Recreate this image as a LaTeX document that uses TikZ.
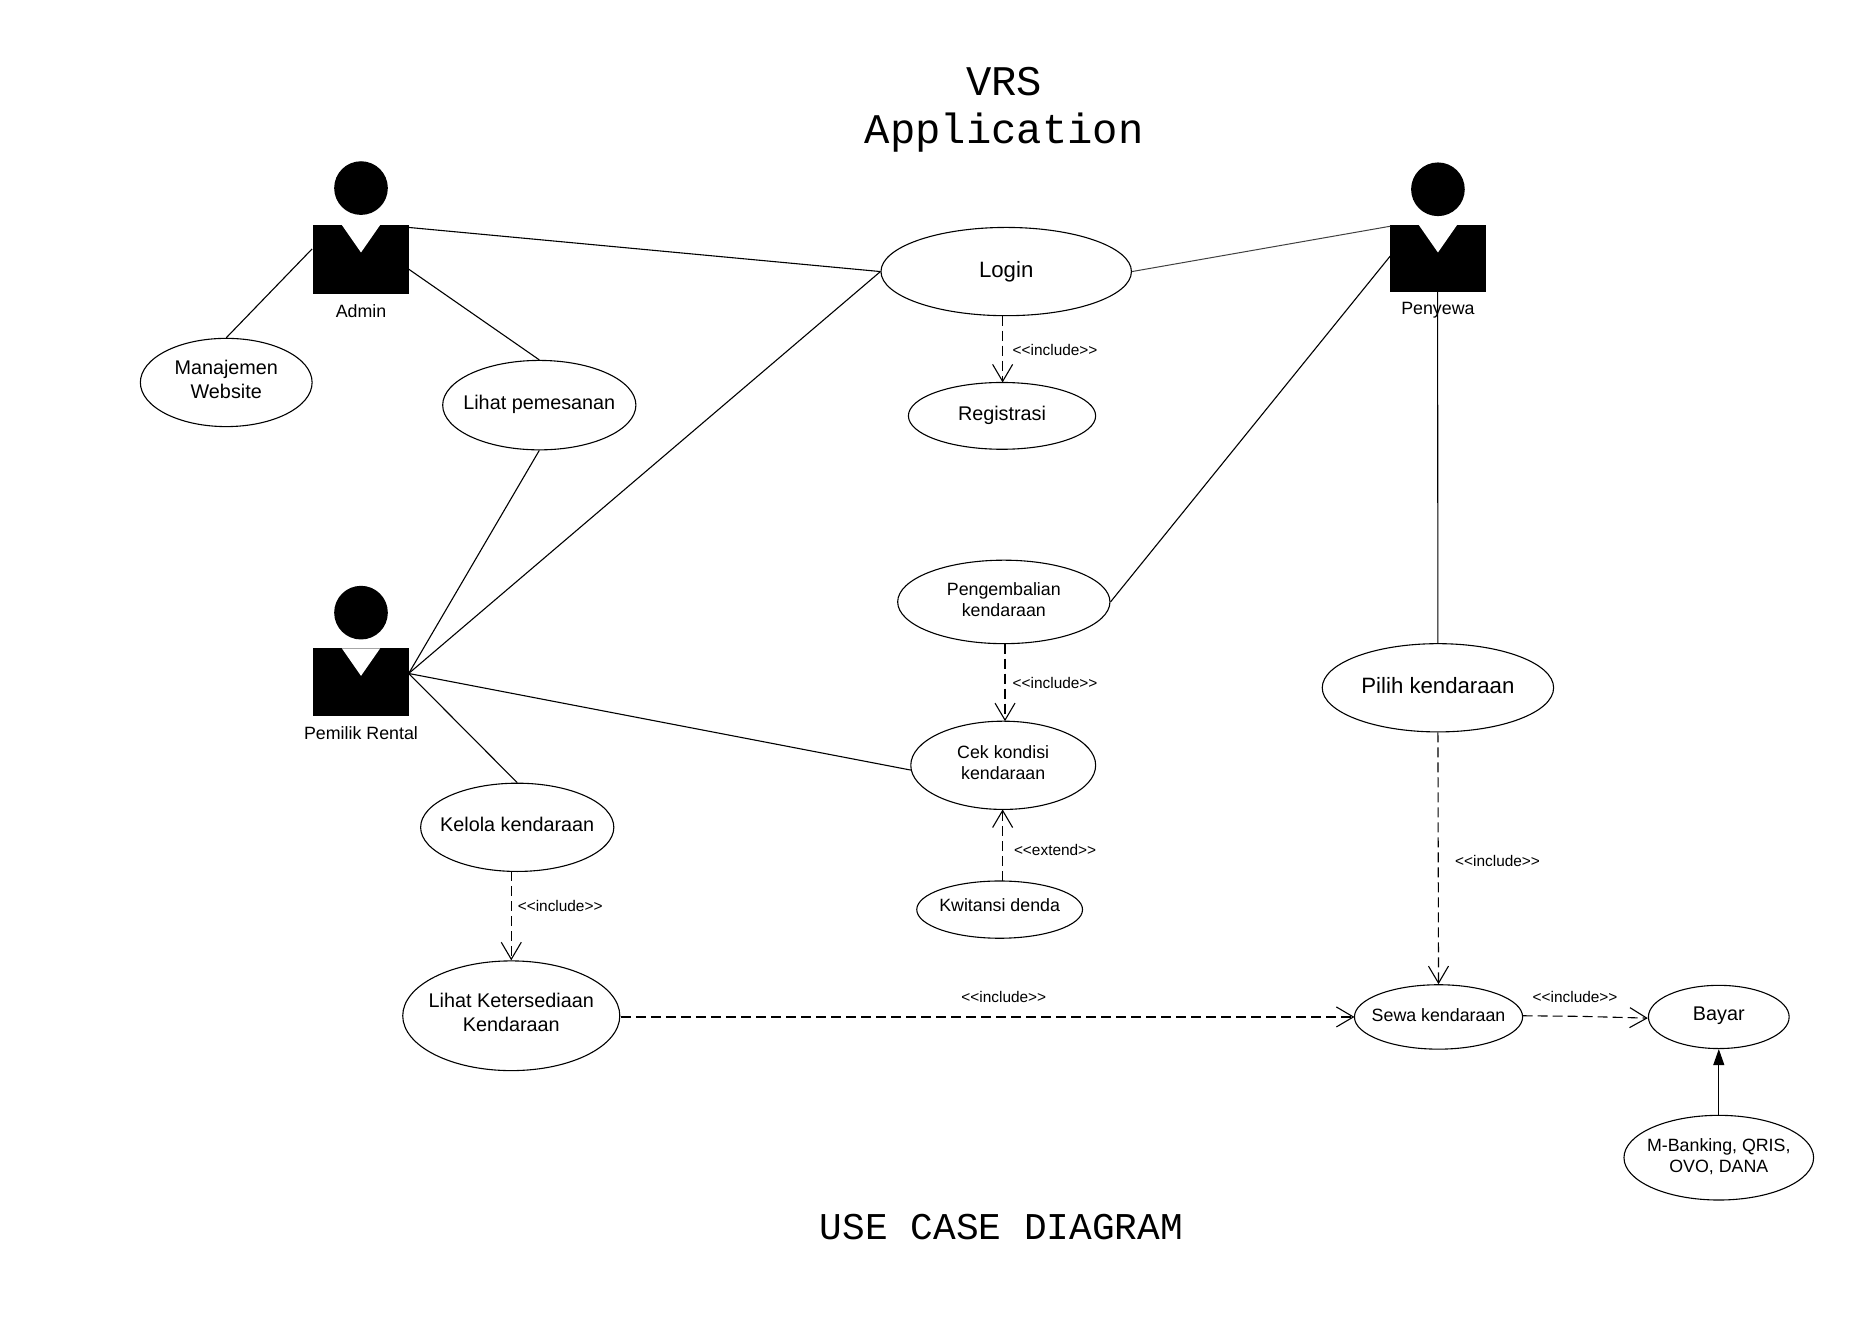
\documentclass[tikz,border=0pt]{standalone}
\usepackage{fontspec}
\setmainfont{Liberation Sans}
\newfontfamily\titlefont{Liberation Mono}
\usetikzlibrary{shapes.geometric,arrows.meta}
\tikzset{
  uc/.style 2 args={ellipse,draw,line width=0.55pt,inner sep=0pt,fill=white,minimum width=#1*0.5963pt,minimum height=#2*0.5963pt},
  uctxt/.style={align=center,inner sep=0pt},
  big/.style={font=\fontsize{11.1}{13}\selectfont},
  mid/.style={font=\fontsize{9.9}{11.9}\selectfont},
  sml/.style={font=\fontsize{8.9}{10.6}\selectfont},
  tag/.style={font=\fontsize{7.7}{9}\selectfont,inner sep=0pt},
  assoc/.style={line width=0.55pt},
  thinassoc/.style={line width=0.5pt,black!75},
  dep/.style={line width=0.55pt,dash pattern=on 5pt off 2.5pt,-{Straight Barb[length=8.5pt,width=10pt,line width=0.55pt]}},
  solidarrow/.style={line width=0.5pt,-{Triangle[length=8pt,width=5.5pt]}},
  actorbody/.style 2 args={rectangle,fill=black,inner sep=0pt,minimum width=#1*0.5963pt,minimum height=#2*0.5963pt},
  actorhead/.style={circle,fill=black,inner sep=0pt,minimum size=45*0.5963pt},
  title/.style={font=\titlefont,align=center,inner sep=0pt}
}
\newcommand{\actornotch}[2]{\fill[white] (#1-16,#2) -- (#1+16,#2) -- (#1,#2+23) -- cycle;}
\begin{document}
\begin{tikzpicture}[x=0.5963pt,y=-0.5963pt]
\useasboundingbox (-0.7,-0.7) rectangle (1567.3,1107.8);

\node[title,font=\titlefont\fontsize{21.1}{24}\selectfont] (ttl) at (841.3,91) {VRS\\Application};
\node[title,font=\titlefont\fontsize{18.9}{22}\selectfont] (foot) at (839,1028.5) {USE CASE DIAGRAM};

% actors
\node[actorhead] (adminH) at (302,157) {};
\node[actorbody={80.5}{58}] (admin) at (301.7,217) {};
\actornotch{302}{188}
\node[sml,inner sep=0pt] (adminL) at (302,260) {Admin};

\node[actorhead] (ownerH) at (302,513) {};
\node[actorbody={80.5}{57}] (owner) at (301.7,571.5) {};
\actornotch{302}{543}
\node[sml,inner sep=0pt] (ownerL) at (302,614) {Pemilik Rental};

\node[actorhead] (renterH) at (1205,158) {};
\node[actorbody={80.5}{56}] (renter) at (1204.7,216) {};
\actornotch{1205}{188}
\node[sml,inner sep=0pt] (renterL) at (1205,259) {Penyewa};

% use cases
\node[uc={210}{74},label={[uctxt,big]center:Login}] (login) at (843,227) {};
\node[uc={157}{56},label={[uctxt,mid]center:Registrasi}] (reg) at (839.5,348) {};
\node[uc={144}{74},label={[uctxt,mid,yshift=1.6pt]center:Manajemen\\Website}] (web) at (189,320) {};
\node[uc={162}{75},label={[uctxt,mid,yshift=0.5pt]center:Lihat pemesanan}] (view) at (451.5,339) {};
\node[uc={178}{70},label={[uctxt,sml,yshift=1.2pt]center:Pengembalian\\kendaraan}] (ret) at (841,504) {};
\node[uc={155}{74},label={[uctxt,sml,yshift=1.3pt]center:Cek kondisi\\kendaraan}] (cek) at (840.5,641) {};
\node[uc={139}{48},label={[uctxt,sml,yshift=2pt]center:Kwitansi denda}] (kwi) at (837.5,762) {};
\node[uc={162}{74},label={[uctxt,mid,yshift=1.4pt]center:Kelola kendaraan}] (kel) at (433,693) {};
\node[uc={182}{92},label={[uctxt,mid,yshift=1.6pt]center:Lihat Ketersediaan\\Kendaraan}] (avail) at (428,851) {};
\node[uc={194}{74},label={[uctxt,big,yshift=0.9pt]center:Pilih kendaraan}] (pick) at (1205,576) {};
\node[uc={141}{54},label={[uctxt,sml,yshift=1pt]center:Sewa kendaraan}] (rent) at (1205.5,852) {};
\node[uc={118}{53},label={[uctxt,mid,yshift=0.8pt]center:Bayar}] (pay) at (1440.5,852) {};
\node[uc={159}{71},label={[uctxt,sml,yshift=0.4pt]center:M-Banking, QRIS,\\OVO, DANA}] (bank) at (1440.5,970) {};

% free ends on the actors and ellipses
\coordinate (adminA) at (342,190);
\coordinate (adminB) at (261,208);
\coordinate (adminC) at (342,225);
\coordinate (ownerA) at (342,564);
\coordinate (renterA) at (1165,189);
\coordinate (renterB) at (1165,214);
\coordinate (cekW) at (763,645);
\coordinate (loginS) at (840,264);
\coordinate (regN) at (840,320);
\coordinate (retS) at (842,539);
\coordinate (cekN) at (842,604);
\coordinate (kwiN) at (840,738);
\coordinate (cekS) at (840,678);
\coordinate (kelS) at (428,730);
\coordinate (availE) at (520,852);
\coordinate (rentW) at (1135,852);
\coordinate (rentE) at (1276,851);
\coordinate (rentBend) at (1325,851.5);
\coordinate (payW) at (1381,853);

% associations
\draw[assoc] (adminA) -- (login.west);
\draw[assoc] (adminB) -- (web.north);
\draw[assoc] (adminC) -- (view.north);
\draw[assoc] (ownerA) -- (view.south);
\draw[assoc] (ownerA) -- (login.west);
\draw[assoc] (ownerA) -- (cekW);
\draw[assoc] (ownerA) -- (kel.north);
\draw[thinassoc] (renterA) -- (login.east);
\draw[assoc] (renterB) -- (ret.east);
\draw[assoc] (renter.south) -- (pick.north);

% dependencies
\draw[dep] (loginS) -- (regN);
\draw[dep] (retS) -- (cekN);
\draw[dep] (kwiN) -- (cekS);
\draw[dep] (kelS) -- (avail.north);
\draw[dep] (availE) -- (rentW);
\draw[dep] (pick.south) -- (rent.north);
\draw[dep] (rentE) -- (rentBend) -- (payW);
\draw[solidarrow] (bank.north) -- (pay.south);

% tags
\node[tag] (t1) at (884,293) {<{}<include>{}>};
\node[tag] (t2) at (884,572) {<{}<include>{}>};
\node[tag] (t3) at (884,712) {<{}<extend>{}>};
\node[tag] (t4) at (469,759) {<{}<include>{}>};
\node[tag] (t5) at (1255,721) {<{}<include>{}>};
\node[tag] (t6) at (841,835) {<{}<include>{}>};
\node[tag] (t7) at (1320,835) {<{}<include>{}>};
\end{tikzpicture}
\end{document}
